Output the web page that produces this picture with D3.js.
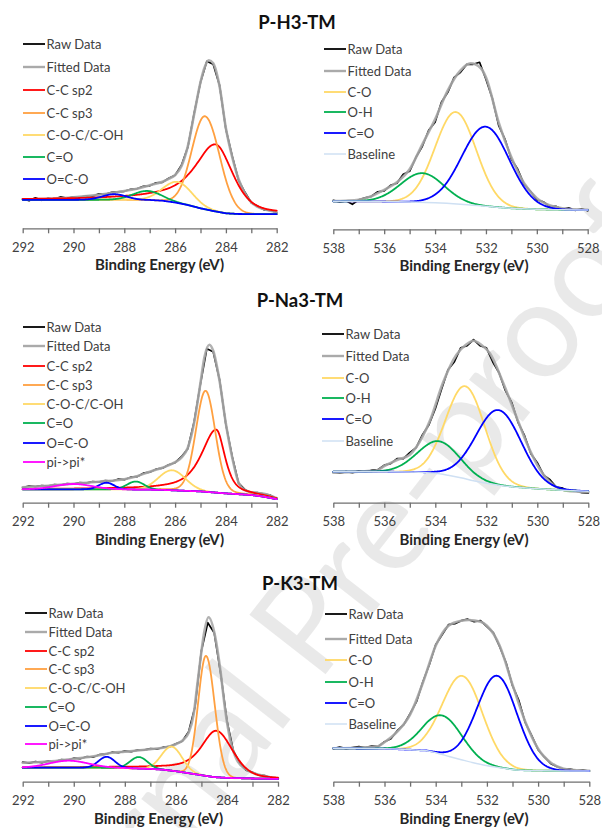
<!DOCTYPE html>
<html>
<head>
<meta charset="utf-8">
<script src="https://cdn.jsdelivr.net/npm/d3@7"></script>
<style>
  html, body { margin: 0; padding: 0; background: #fff; }
  svg { display: block; }
</style>
</head>
<body>
<svg id="chart" width="602" height="828"></svg>
<script>
// ---------------- data ----------------
const sampleNames = ["P-H3-TM", "P-Na3-TM", "P-K3-TM"];
const axisTitle = "Binding Energy (eV)";
const watermarkText = "Journal Pre-proof";

const c1sTicks = [292, 291, 290, 289, 288, 287, 286, 285, 284, 283, 282];
const c1sTickLabels = ["292", "290", "288", "286", "284", "282"];
const o1sTicks = [538, 537, 536, 535, 534, 533, 532, 531, 530, 529, 528];
const o1sTickLabels = ["538", "536", "534", "532", "530", "528"];

// raw spectra are sampled every 0.25 eV from the high binding-energy end
const rawStep = 0.25;

// ---- P-H3-TM, C 1s ----
const rawH3C = [29.5,27.5,30.5,28,30,29,31.5,30,31.5,31,32.5,32,34.5,34,36,36.5,37,39,39.5,42,42.5,45.5,46,50,53,63,81,115,146,167,164,143,99,72,48,36,25.5,22,18.5,18,15.5];
const fitH3C = [[292,29],[291,29.6],[290,31],[289,33.5],[288,37.3],[287.5,39.6],[287,43],[286.5,46.6],[286.25,49.5],[286,53.3],[285.75,62],[285.5,82],[285.25,114],[285,146],[284.85,160],[284.67,168],[284.5,165],[284.25,142],[284,100],[283.75,71],[283.5,49],[283.25,35],[283,26],[282.75,21.5],[282.5,19],[282.25,17.5],[282,16]];
const baseH3C = [[292,28.5],[290,28.5],[288,28.6],[287,28.3],[286.5,27.6],[286,25.8],[285.5,23.3],[285,20],[284.5,17.3],[284,15],[283.5,14.3],[283,14.2],[282,14.2]];
const peaksH3C = [
  { name: "C-C sp2",    c: 284.4,  h: 67,  wHi: 2.0,  wLo: 1.6,  mHi: 0.8, mLo: 0.5 },
  { name: "C-C sp3",    c: 284.82, h: 93,  wHi: 1.22, wLo: 1.35, mHi: 0,   mLo: 0 },
  { name: "C-O-C/C-OH", c: 285.9,  h: 21,  wHi: 1.35, wLo: 1.35, mHi: 0,   mLo: 0 },
  { name: "C=O",        c: 287.1,  h: 9,   wHi: 1.3,  wLo: 1.3,  mHi: 0,   mLo: 0 },
  { name: "O=C-O",      c: 288.4,  h: 5.5, wHi: 1.1,  wLo: 1.1,  mHi: 0,   mLo: 0 }
];

// ---- P-H3-TM, O 1s ----
const rawH3O = [29,27.5,28.5,25,29.5,31.5,33,37.5,38.5,44,46,55,58,72,83,99,107,127,137,152,157,165,165,167,150,131,104,90,70,60,45,38,29.5,27.5,23,23,20,21.5,19,20.5,18.5];
const fitH3O = [[538,28.3],[537.5,28.6],[537,29.5],[536.5,33],[536,39.5],[535.5,47],[535,60],[534.5,85],[534,110],[533.5,139],[533,159],[532.6,166],[532.2,161],[532,152],[531.5,107],[531,72],[530.5,46],[530,31],[529.5,24],[529,21],[528.5,20],[528,19.6]];
const baseH3O = [[538,28],[537,28],[536,27.8],[535,27.3],[534,26.5],[533,25],[532,23],[531,21],[530,20],[529,19.5],[528,19.3]];
const peaksH3O = [
  { name: "C-O", c: 533.19, h: 92,   wHi: 1.9, wLo: 1.9, mHi: 0, mLo: 0 },
  { name: "O-H", c: 534.5,  h: 29.2, wHi: 2.0, wLo: 2.0, mHi: 0, mLo: 0 },
  { name: "C=O", c: 532.01, h: 79.6, wHi: 2.2, wLo: 2.2, mHi: 0, mLo: 0 }
];

// ---- P-Na3-TM, C 1s ----
const rawNa3C = [15,16.5,16,17,16.5,18,17.5,19,18.5,20,19.5,21,20.5,22,21.5,23.5,23,25.5,26,29.5,30.5,33.5,34.5,38,40,46,54,81,119,154,151,123,78,46,19.5,13,10,10,8.5,7.5,4];
const fitNa3C = [[292,15.5],[291,17],[290,19],[289,21],[288,23.5],[287.5,26.5],[287,31],[286.5,35],[286,40.5],[285.75,45],[285.5,55],[285.25,80],[285,120],[284.85,145],[284.65,158],[284.5,152],[284.25,122],[284,79],[283.75,45],[283.5,20],[283.25,12.5],[283,10.5],[282.75,9.5],[282.5,9],[282.25,7],[282,4.4]];
const baseNa3C = [[292,13.4],[289,13.4],[288,13.3],[287,13],[286.5,12.8],[286,12.3],[285.5,11.8],[285,11.3],[284.5,10.3],[284,9.3],[283.5,8.5],[283,7.7],[282.5,6],[282,3.5]];
const peaksNa3C = [
  { name: "C-C sp2",    c: 284.38, h: 63,  wHi: 1.4,  wLo: 0.8,  mHi: 0.8, mLo: 0.6 },
  { name: "C-C sp3",    c: 284.8,  h: 101, wHi: 0.9,  wLo: 0.9,  mHi: 0.1, mLo: 0.1 },
  { name: "C-O-C/C-OH", c: 286.12, h: 20,  wHi: 1.25, wLo: 1.25, mHi: 0,   mLo: 0 },
  { name: "C=O",        c: 287.55, h: 8,   wHi: 0.8,  wLo: 0.8,  mHi: 0,   mLo: 0 },
  { name: "O=C-O",      c: 288.7,  h: 6.6, wHi: 0.7,  wLo: 0.7,  mHi: 0,   mLo: 0 },
  { name: "pi->pi*",    c: 290.0,  h: 5.3, wHi: 1.7,  wLo: 1.7,  mHi: 0,   mLo: 0 }
];

// ---- P-Na3-TM, O 1s ----
const rawNa3O = [30.5,29.5,31,30,31.5,30.5,32.5,33,37.5,39,44,44,50,55,68,78,94,114,133,141,155,157,163,157,155,141,130,112,100,80,67,49,40,27.5,23,15.5,14.5,11.5,12,10,9.5];
const fitNa3O = [[538,30],[537,31],[536.5,31.8],[536.25,32.7],[536,36.7],[535.5,42.7],[535,48],[534.5,66],[534.2,82.7],[533.7,120],[533.17,148],[532.8,158],[532.5,162],[532.2,158],[531.86,149.4],[531.34,120],[530.82,86],[530.42,60],[529.9,33.4],[529.37,17.7],[528.85,12],[528.4,11],[528,10.5]];
const baseNa3O = [[538,31],[536,31],[535,30.8],[534.5,30.2],[534,29.5],[533.5,27.5],[533,25],[532.5,22],[532,19.5],[531.5,17.5],[531,16],[530,14],[529,12.5],[528,11.5]];
const peaksNa3O = [
  { name: "C-O", c: 532.82, h: 92.5, wHi: 1.8,  wLo: 1.8,  mHi: 0, mLo: 0 },
  { name: "O-H", c: 533.86, h: 32.5, wHi: 1.95, wLo: 1.95, mHi: 0, mLo: 0 },
  { name: "C=O", c: 531.52, h: 75,   wHi: 2.1,  wLo: 2.1,  mHi: 0, mLo: 0 }
];

// ---- P-K3-TM, C 1s ----
const rawK3C = [19.5,18.5,20,19,20.5,20,22,21.5,23.5,23,25,24.5,27,27.5,29.5,29,30.5,30,31.5,31.5,33,32.5,34.5,35,38,40.5,50,75,131,159,149,109,61,31,18.5,11.5,9.5,6.5,6,4,3.5];
const fitK3C = [[292,19],[291,20.2],[290,23],[289.5,24.4],[289,26.5],[288.5,29],[288,30],[287,32.5],[286.5,34],[286,37.5],[285.75,41],[285.5,49],[285.3,68],[285.17,95],[285.04,122],[284.9,148],[284.72,164.4],[284.46,145],[284.26,112],[284.07,72],[283.87,42],[283.61,21.7],[283.22,11.7],[282.7,6.7],[282.3,4.5],[282,3.4]];
const baseK3C = [[292,14],[289,14],[288,13.6],[287,12.8],[286.5,12],[286,10.5],[285.5,8.5],[285,6.5],[284.5,4.6],[284,3.8],[283,3.2],[282,2.8]];
const peaksK3C = [
  { name: "C-C sp2",    c: 284.42, h: 46.5, wHi: 1.45, wLo: 1.5,  mHi: 0.8, mLo: 0.3 },
  { name: "C-C sp3",    c: 284.82, h: 120,  wHi: 0.72, wLo: 0.8,  mHi: 0,   mLo: 0 },
  { name: "C-O-C/C-OH", c: 286.16, h: 24,   wHi: 0.95, wLo: 0.95, mHi: 0,   mLo: 0 },
  { name: "C=O",        c: 287.45, h: 11.5, wHi: 0.8,  wLo: 0.8,  mHi: 0,   mLo: 0 },
  { name: "O=C-O",      c: 288.71, h: 11,   wHi: 0.75, wLo: 0.75, mHi: 0,   mLo: 0 },
  { name: "pi->pi*",    c: 290.2,  h: 7,    wHi: 1.8,  wLo: 1.8,  mHi: 0,   mLo: 0 }
];

// ---- P-K3-TM, O 1s ----
const rawK3O = [33,34.5,33,34,35,34,35.5,35,40,43,51,57,68,80,100,117,137,147,157,158,161,162.5,160,161,155,149,135,119,96,81,59,46,32,24.5,18,15,12.5,12.5,11,11.5,10.5];
const fitK3O = [[538,33.4],[537,34],[536.5,34.6],[536.25,35.5],[536,39.5],[535.5,50],[535,67],[534.5,99],[534,136],[533.5,156],[533,161],[532.7,161.7],[532.25,160],[532,156],[531.5,136],[531,97],[530.5,60],[530,33],[529.5,19],[529,13],[528.5,11.5],[528,11]];
const baseK3O = [[538,33.4],[536,33],[535,32],[534.35,31],[534,29],[533.44,25],[533,22],[532.14,16.7],[531.5,14],[530.84,11.7],[530,11],[528,10.7]];
const peaksK3O = [
  { name: "C-O", c: 532.95, h: 84,   wHi: 1.85, wLo: 1.85, mHi: 0, mLo: 0 },
  { name: "O-H", c: 533.73, h: 39,   wHi: 1.8,  wLo: 1.8,  mHi: 0, mLo: 0 },
  { name: "C=O", c: 531.6,  h: 91.5, wHi: 1.85, wLo: 1.85, mHi: 0, mLo: 0 }
];

// ---------------- styles & layout ----------------
const FONT = "Lato, 'Open Sans', 'DejaVu Sans', sans-serif";
const TEXT_COLOR = "#404040";
const AXIS_COLOR = "#6f6f6f";

const c1sColors = {
  "Raw Data": "#000000", "Fitted Data": "#aaaaaa",
  "C-C sp2": "#ff0000", "C-C sp3": "#ffa040", "C-O-C/C-OH": "#ffd966",
  "C=O": "#00b050", "O=C-O": "#0000ff", "pi->pi*": "#ff00ff"
};
const o1sColors = {
  "Raw Data": "#000000", "Fitted Data": "#aaaaaa",
  "C-O": "#ffd966", "O-H": "#00b050", "C=O": "#0000ff", "Baseline": "#cfe0f3"
};

const titleLayout = [
  { x: 297, y: 29.3 },
  { x: 300, y: 307.3 },
  { x: 300, y: 590 }
];

const panels = [
  { kind: "C", raw: rawH3C, fit: fitH3C, base: baseH3C, peaks: peaksH3C,
    x0: 22.7, x1: 276.7, axisY: 228.3, titleX: 159.5,
    legend: { x: 23, ys: [44, 67, 90, 113, 135, 157, 179] } },
  { kind: "O", raw: rawH3O, fit: fitH3O, base: baseH3O, peaks: peaksH3O,
    x0: 333.3, x1: 587.7, axisY: 229.3, titleX: 464,
    legend: { x: 324, ys: [49, 71, 92, 112, 133, 154] } },
  { kind: "C", raw: rawNa3C, fit: fitNa3C, base: baseNa3C, peaks: peaksNa3C,
    x0: 22.7, x1: 276.7, axisY: 502.7, titleX: 159.5,
    legend: { x: 23, ys: [327, 346, 366, 385, 404, 423, 443, 462] } },
  { kind: "O", raw: rawNa3O, fit: fitNa3O, base: baseNa3O, peaks: peaksNa3O,
    x0: 333.3, x1: 588.3, axisY: 502.7, titleX: 464,
    legend: { x: 322, ys: [334, 356, 378, 398, 419, 441] } },
  { kind: "C", raw: rawK3C, fit: fitK3C, base: baseK3C, peaks: peaksK3C,
    x0: 22.7, x1: 278, axisY: 781.7, titleX: 158.5,
    legend: { x: 25, ys: [613, 632, 651, 669, 688, 707, 726, 744] } },
  { kind: "O", raw: rawK3O, fit: fitK3O, base: baseK3O, peaks: peaksK3O,
    x0: 333.3, x1: 589.3, axisY: 781.7, titleX: 464,
    legend: { x: 325, ys: [614, 639, 660, 682, 703, 724] } }
];

// ---------------- helpers ----------------
// asymmetric pseudo-Voigt: separate width / Lorentz fraction on each side of the centre
function peakValue(p, E) {
  const high = E > p.c;
  const w = high ? p.wHi : p.wLo;
  const m = high ? p.mHi : p.mLo;
  const d = (E - p.c) / w;
  return p.h * ((1 - m) * Math.exp(-4 * Math.LN2 * d * d) + m / (1 + 4 * d * d));
}

const svg = d3.select("#chart");

// faint diagonal watermark behind the spectra
svg.append("text")
  .attr("transform", "translate(350,643) rotate(-52)")
  .attr("text-anchor", "middle")
  .style("font-family", FONT).style("font-size", "135px")
  .attr("fill", "#000").attr("fill-opacity", 0.085)
  .text(watermarkText);

// sample titles
sampleNames.forEach((name, i) => {
  svg.append("text")
    .attr("x", titleLayout[i].x).attr("y", titleLayout[i].y)
    .attr("text-anchor", "middle")
    .style("font-family", FONT).style("font-weight", 700).style("font-size", "18.5px")
    .attr("fill", "#111")
    .text(name);
});

panels.forEach(p => {
  const isC = p.kind === "C";
  const domain = isC ? [292, 282] : [538, 528];
  const colors = isC ? c1sColors : o1sColors;
  const ticks = isC ? c1sTicks : o1sTicks;
  const tickLabels = isC ? c1sTickLabels : o1sTickLabels;

  const x = d3.scaleLinear().domain(domain).range([p.x0, p.x1]);
  const y = d3.scaleLinear().domain([0, 200]).range([p.axisY, p.axisY - 200]);
  const baseAt = d3.scaleLinear().domain(p.base.map(d => d[0])).range(p.base.map(d => d[1])).clamp(true);

  const g = svg.append("g");

  // x axis
  const axis = d3.axisBottom(x)
    .tickValues(ticks)
    .tickFormat(v => tickLabels.includes(String(v)) ? String(v) : "")
    .tickSize(5).tickSizeOuter(0).tickPadding(9.3);
  const ag = g.append("g").attr("transform", `translate(0,${p.axisY})`).call(axis);
  ag.attr("font-family", null).attr("font-size", null);
  ag.select(".domain").attr("stroke", AXIS_COLOR).attr("stroke-width", 1.3);
  ag.selectAll(".tick line").attr("stroke", AXIS_COLOR).attr("stroke-width", 1.3);
  ag.selectAll(".tick text")
    .attr("fill", TEXT_COLOR)
    .style("font-family", FONT).style("font-size", "13px");

  g.append("text")
    .attr("x", p.titleX).attr("y", p.axisY + 41.8)
    .attr("text-anchor", "middle")
    .style("font-family", FONT).style("font-weight", 700).style("font-size", "15px")
    .attr("fill", "#262626")
    .text(axisTitle);

  const plot = g.append("g").attr("fill", "none").attr("stroke-linejoin", "round").attr("stroke-linecap", "round");

  // raw spectrum
  const rawPts = p.raw.map((v, i) => [domain[0] - i * rawStep, v]);
  plot.append("path")
    .attr("d", d3.line().x(d => x(d[0])).y(d => y(d[1]))(rawPts))
    .attr("stroke", colors["Raw Data"]).attr("stroke-width", 1.7);

  // fitted envelope
  plot.append("path")
    .attr("d", d3.line().x(d => x(d[0])).y(d => y(d[1])).curve(d3.curveMonotoneX)(p.fit))
    .attr("stroke", colors["Fitted Data"]).attr("stroke-width", 2.6).attr("stroke-opacity", 0.9);

  // fitted components, each sitting on the background
  const fine = d3.range(0, 501).map(i => domain[0] - i * (domain[0] - domain[1]) / 500);
  p.peaks.forEach(pk => {
    const pts = fine.map(E => [E, baseAt(E) + peakValue(pk, E)]);
    plot.append("path")
      .attr("d", d3.line().x(d => x(d[0])).y(d => y(d[1]))(pts))
      .attr("stroke", colors[pk.name]).attr("stroke-width", 1.8);
  });

  // background line (O 1s only)
  if (!isC) {
    plot.append("path")
      .attr("d", d3.line().x(d => x(d[0])).y(d => y(d[1])).curve(d3.curveMonotoneX)(p.base))
      .attr("stroke", colors["Baseline"]).attr("stroke-width", 1.5);
  }

  // legend
  const names = ["Raw Data", "Fitted Data"].concat(p.peaks.map(d => d.name)).concat(isC ? [] : ["Baseline"]);
  const lg = g.append("g");
  names.forEach((name, i) => {
    const ly = p.legend.ys[i];
    lg.append("line")
      .attr("x1", p.legend.x).attr("x2", p.legend.x + 22)
      .attr("y1", ly).attr("y2", ly)
      .attr("stroke", colors[name])
      .attr("stroke-width", name === "Fitted Data" ? 2.4 : (name === "Baseline" ? 1.5 : 1.8));
    lg.append("text")
      .attr("x", p.legend.x + 23.5).attr("y", ly).attr("dy", "0.35em")
      .style("font-family", FONT).style("font-size", "13px")
      .attr("fill", TEXT_COLOR)
      .text(name);
  });
});
</script>
</body>
</html>
